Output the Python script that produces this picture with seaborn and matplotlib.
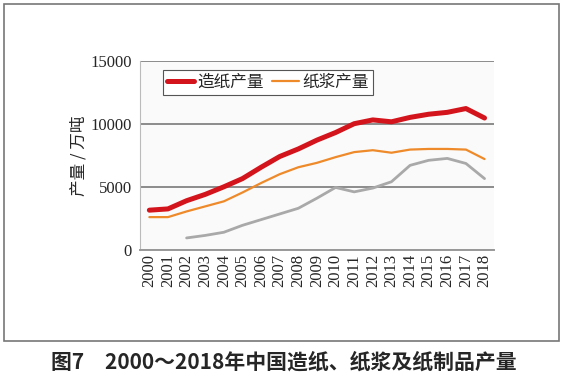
import matplotlib
matplotlib.use("Agg")
import matplotlib.pyplot as plt
import numpy as np
import pandas as pd
import seaborn as sns
from matplotlib.patches import Rectangle

### Data
years = [str(y) for y in range(2000, 2019)]
paper = [3150, 3250, 3900, 4400, 5000, 5650, 6550, 7400, 8000, 8700,
         9300, 10000, 10300, 10150, 10500, 10750, 10900, 11200, 10450]
pulp = [2600, 2600, 3050, 3450, 3850, 4550, 5300, 6000, 6550, 6900,
        7350, 7750, 7900, 7700, 7950, 8000, 8000, 7950, 7200]
products = [np.nan, np.nan, 950, 1150, 1400, 1950, 2400, 2850, 3300, 4100,
            4950, 4600, 4900, 5400, 6700, 7100, 7250, 6850, 5650]
series_names = ["造纸产量", "纸浆产量", None]
yticks = [0, 5000, 10000, 15000]

cjk = ["Noto Sans CJK SC", "DejaVu Sans"]
serif = ["Liberation Serif", "DejaVu Serif"]


def main():
    sns.set_style("white")
    plt.rcParams['font.family'] = serif

    df = pd.DataFrame({"year": years, "pos": np.arange(len(years)),
                       "paper": paper, "pulp": pulp, "products": products})

    fig = plt.figure(figsize=(5.67, 3.81), dpi=100)
    ax = fig.add_axes([0.247, 0.344, 0.624, 0.497])
    ax.set_facecolor("#fafafa")

    ## outer frame around the chart
    fig.patches.append(Rectangle((4 / 567, 1 - 341 / 381), 555 / 567, 337 / 381,
                                 transform=fig.transFigure, fill=False,
                                 edgecolor="#777777", linewidth=1.2))

    styles = [("paper", "#d4141c", 3.6), ("pulp", "#ee8a2a", 1.6),
              ("products", "#a9a9a9", 2.0)]
    for (col, color, lw), name in zip(styles, series_names):
        sub = df.dropna(subset=[col])
        sns.lineplot(data=sub, x="pos", y=col, ax=ax, color=color, lw=lw,
                     label=name if name else "_nolegend_", legend=False)

    ax.set_xlim(-0.5, len(years) - 0.5)
    ax.set_ylim(0, 15000)
    ax.set_yticks(yticks)
    ax.set_yticklabels([str(t) for t in yticks], fontsize=12)
    ax.set_xticks(df["pos"])
    ax.set_xticklabels(years, rotation=90, fontsize=12)
    ax.set_xticks(np.arange(-0.5, len(years), 1), minor=True)
    ax.tick_params(axis="x", which="major", length=0, pad=3)
    ax.tick_params(axis="x", which="minor", length=4, color="#888888", width=1)
    ax.tick_params(axis="y", length=4, color="#888888", width=1, pad=2)
    ax.yaxis.grid(True, color="#8c8c8c", lw=1.4)
    ax.set_axisbelow(True)
    for side in ["top", "right"]:
        ax.spines[side].set_visible(False)
    ax.spines["left"].set_color("#bbbbbb")
    ax.spines["bottom"].set_color("#999999")
    ax.spines["bottom"].set_linewidth(1.4)
    ax.set_xlabel("")
    ax.set_ylabel("产量 / 万吨", fontsize=12, family=cjk, labelpad=2)

    leg = ax.legend(loc="upper left", bbox_to_anchor=(0.065, 0.95), ncol=2,
                    fancybox=False, framealpha=1, edgecolor="#555555",
                    prop={"family": cjk, "size": 12}, handlelength=1.6,
                    handletextpad=0.2, columnspacing=0.5, borderpad=0.25,
                    borderaxespad=0)
    leg.get_frame().set_linewidth(0.8)

    fig.text(0.5, 1 - 362 / 381, "图7　2000～2018年中国造纸、纸浆及纸制品产量",
             ha="center", va="center", fontsize=15, fontweight="bold", family=cjk)

    fig.savefig("out.png", dpi=100, facecolor="white")


if __name__ == '__main__':
    main()
